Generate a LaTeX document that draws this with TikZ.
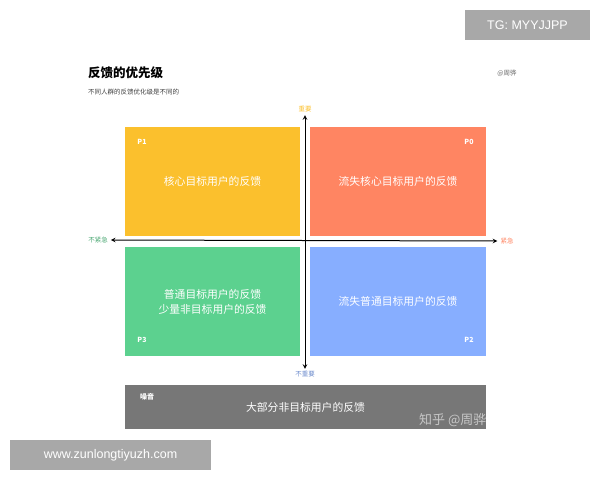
\documentclass[tikz,border=0pt]{standalone}
\usepackage{fontspec}
\setmainfont{Noto Sans CJK SC}
\newfontfamily\latinfont{Liberation Sans}

\definecolor{qyellow}{HTML}{FBC02D}
\definecolor{qorange}{HTML}{FF8562}
\definecolor{qgreen}{HTML}{5CD18F}
\definecolor{qblue}{HTML}{87AEFF}
\definecolor{noisegray}{HTML}{777777}
\definecolor{markgray}{HTML}{A8A8A8}

\begin{document}
\begin{tikzpicture}[x=1pt, y=-1pt, >=stealth,
  quad/.style={minimum width=176pt, minimum height=109pt, inner sep=0pt,
    text=white, font=\fontsize{10.8}{15}\selectfont, align=center},
  tag/.style={text=white, font=\bfseries\fontsize{7}{8}\selectfont, inner sep=0pt},
  axislabel/.style={font=\fontsize{6.5}{7}\selectfont, inner sep=1pt},
  markbox/.style={fill=markgray, text=white, font=\latinfont\fontsize{12.5}{14}\selectfont,
    inner sep=0pt, minimum height=30pt}]
  \useasboundingbox (0,0) rectangle (600,480);

  % Title
  \node[anchor=west, inner sep=0pt, font=\bfseries\fontsize{12.5}{14}\selectfont] (title) at (88,73) {反馈的优先级};
  \node[anchor=west, inner sep=0pt, text=black!75, font=\fontsize{6.5}{7}\selectfont] (subtitle) at (88,92) {不同人群的反馈优化级是不同的};
  \node[inner sep=0pt, text=black!60, font=\fontsize{6.5}{7}\selectfont] (author) at (507,73) {@周骅};

  % Quadrants
  \node[quad, fill=qyellow, minimum width=175pt] (core) at (212.5,181.5) {核心目标用户的反馈};
  \node[quad, fill=qorange] (lostcore) at (398,181.5) {流失核心目标用户的反馈};
  \node[quad, fill=qgreen, minimum width=175pt] (common) at (212.5,301.5) {普通目标用户的反馈\\少量非目标用户的反馈};
  \node[quad, fill=qblue] (lostcommon) at (398,301.5) {流失普通目标用户的反馈};

  % Priority tags
  \node[tag] (p1) at (142,142) {P1};
  \node[tag] (p0) at (469,142) {P0};
  \node[tag] (p3) at (142,340) {P3};
  \node[tag] (p2) at (469,340) {P2};

  % Axes
  \node[axislabel, text=qyellow] (important) at (305,109) {重要};
  \node[axislabel, text=qblue!80!black] (unimportant) at (305,374) {不重要};
  \node[axislabel, text=qgreen!80!black] (noturgent) at (98,240) {不紧急};
  \node[axislabel, text=qorange] (urgent) at (507,241) {紧急};
  \draw[<->, line width=1pt, shorten <=1pt, shorten >=2pt] (unimportant.north) -- (important.south);
  \draw[<->, line width=1pt, shorten <=2pt, shorten >=2pt] (noturgent.east) -- (urgent.west);

  % Noise
  \node[fill=noisegray, minimum width=361pt, minimum height=44pt, inner sep=0pt,
    text=white, font=\fontsize{10.8}{12}\selectfont] (noise) at (305.5,407) {大部分非目标用户的反馈};
  \node[tag] (noisetag) at (147,397) {噪音};

  % Watermarks
  \node[anchor=west, inner sep=0pt, text=white!78!black, font=\fontsize{13}{14}\selectfont] (zhihu) at (419,420) {知乎 @周骅};
  \node[markbox, minimum width=125pt] (tg) at (527.5,25) {TG: MYYJJPP};
  \node[markbox, minimum width=201pt] (site) at (110.5,455) {www.zunlongtiyuzh.com};
\end{tikzpicture}
\end{document}
